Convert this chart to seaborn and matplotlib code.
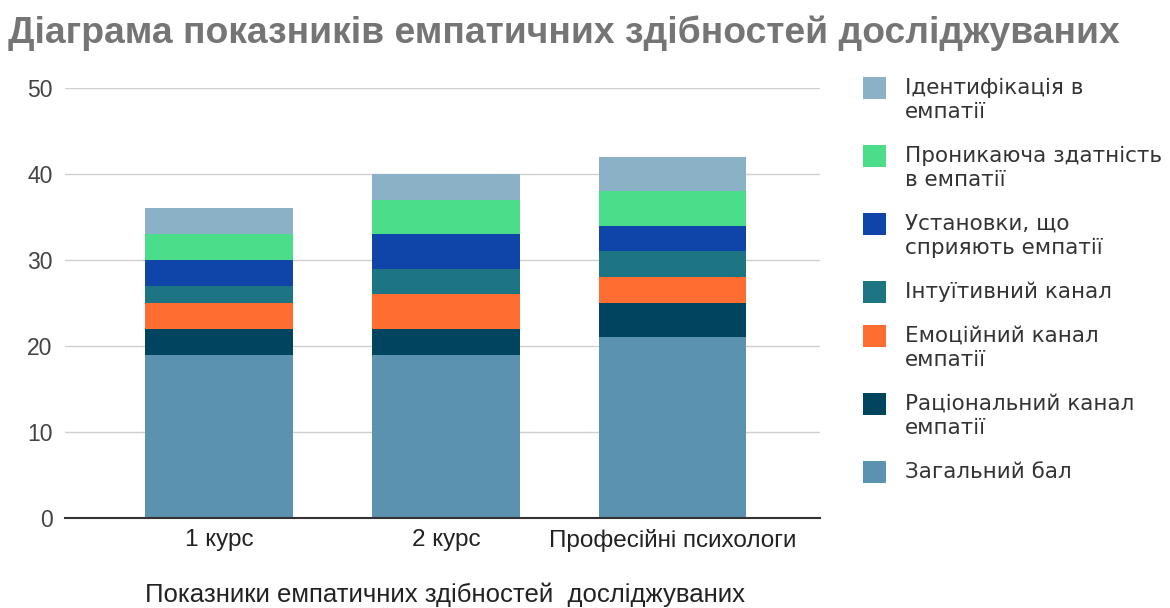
import pandas as pd
import matplotlib
matplotlib.use("Agg")
import matplotlib.pyplot as plt
from matplotlib.patches import Rectangle
import seaborn as sns

categories = ["1 курс", "2 курс", "Професійні психологи"]

# series from bottom of the stack to top
series_names = [
    "Загальний бал",
    "Раціональний канал\nемпатії",
    "Емоційний канал\nемпатії",
    "Інтуїтивний канал",
    "Установки, що\nсприяють емпатії",
    "Проникаюча здатність\nв емпатії",
    "Ідентифікація в\nемпатії",
]
zagalnyi = [19, 19, 21]
ratsionalnyi = [3, 3, 4]
emotsiinyi = [3, 4, 3]
intuityvnyi = [2, 3, 3]
ustanovky = [3, 4, 3]
pronykaiucha = [3, 4, 4]
identyfikatsiia = [3, 3, 4]

colors = ["#5b92b0", "#00445f", "#ff6d31", "#1d7584", "#0f44a8", "#4cdd8a", "#8ab1c5"]

title = "Діаграма показників емпатичних здібностей досліджуваних"
xlabel = "Показники емпатичних здібностей  досліджуваних"
yticks = [0, 10, 20, 30, 40, 50]

sns.set_theme(style="white")
plt.rcParams["font.family"] = ["Liberation Sans", "DejaVu Sans"]

values = pd.DataFrame(
    [zagalnyi, ratsionalnyi, emotsiinyi, intuityvnyi, ustanovky, pronykaiucha, identyfikatsiia],
    index=series_names, columns=categories,
)
stacked = values.cumsum()

W, H = 1170, 608
fig = plt.figure(figsize=(W / 100, H / 100), dpi=100)
ax = fig.add_axes([65 / W, 1 - 518 / H, (820 - 65) / W, (518 - 88) / H])

# draw cumulative totals, tallest first, so each layer sits on the one below
for name, color in reversed(list(zip(series_names, colors))):
    sns.barplot(x=categories, y=stacked.loc[name].values, order=categories,
                color=color, width=0.65, errorbar=None, saturation=1,
                linewidth=0, ax=ax, zorder=2)

ax.set_xlim(-0.68, 2.65)
ax.set_ylim(0, 50)
ax.set_yticks(yticks)
ax.set_yticklabels([str(t) for t in yticks])
ax.yaxis.grid(True, color="#d0d0d0", linewidth=1, zorder=0)
ax.set_axisbelow(True)
for s in ["top", "right", "left"]:
    ax.spines[s].set_visible(False)
ax.spines["bottom"].set_color("#333333")
ax.spines["bottom"].set_linewidth(1.5)
ax.spines["bottom"].set_zorder(3)
ax.tick_params(axis="y", length=0, pad=9, labelsize=16.5, labelcolor="#444444")
ax.tick_params(axis="x", length=0, pad=8, labelsize=17.5, labelcolor="#222222")
ax.set_xlabel("")
ax.set_ylabel("")

fig.text(445 / W, 1 - 602 / H, xlabel, ha="center", va="baseline",
         fontsize=18.5, color="#222222")

fig.text(8 / W, 1 - 33 / H, title, ha="left", va="center",
         fontsize=26.8, fontweight="bold", color="#757575")

# legend, top entry first
y = 88
for name, color in reversed(list(zip(series_names, colors))):
    lines = name.split("\n")
    fig.patches.append(Rectangle((863 / W, 1 - (y + 11) / H), 23 / W, 22 / H,
                                 transform=fig.transFigure, facecolor=color,
                                 edgecolor="none"))
    for i, line in enumerate(lines):
        fig.text(905 / W, 1 - (y + 24 * i) / H, line, ha="left", va="center",
                 fontsize=15.5, color="#333333", family="DejaVu Sans")
    y += 24 * len(lines) + 20

fig.savefig("out.png", dpi=100, facecolor="white")
